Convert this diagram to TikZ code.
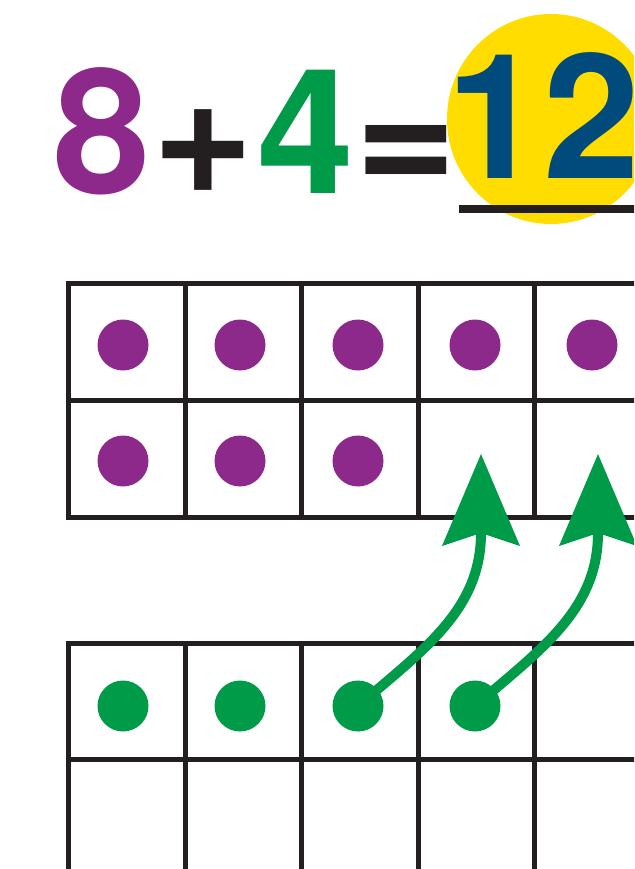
\documentclass[tikz,border=0pt]{standalone}
\usepackage{fontspec}
\setmainfont{TeX Gyre Heros}
\usetikzlibrary{arrows.meta}

\definecolor{morado}{HTML}{8E298C}
\definecolor{verde}{HTML}{009B48}
\definecolor{azul}{HTML}{004A7C}
\definecolor{amarillo}{HTML}{FFDD00}
\definecolor{negro}{HTML}{231F20}

\begin{document}
\begin{tikzpicture}[
    x=0.5pt,
    y=-0.5pt,
    cifra/.style={anchor=base,inner sep=0pt,font=\bfseries\fontsize{87}{87}\selectfont},
    linea/.style={line width=2.5pt,negro,line cap=rect},
    punto/.style={circle,inner sep=0pt,minimum size=25.5pt},
    flecha/.style={line width=5pt,verde,
        -{Stealth[length=46pt,width=39pt,inset=6.5pt,line width=0pt]}}
]
    \useasboundingbox (0,0) rectangle (634,869);
    \clip (0,0) rectangle (634,869);

    % Suma
    \fill[amarillo] (551,119) ellipse [x radius=104,y radius=105];
    \node[cifra,morado] (ocho) at (101.5,193) {8};
    \node[cifra,negro] (mas) at (203,193) {+};
    \node[cifra,verde] (cuatro) at (306,193) {4};
    \node[cifra,negro] (igual) at (406.5,193) {=};
    \node[cifra,azul] (doce) at (543,178) {12};
    \draw[negro,line width=4pt] (459,209) -- (660,209);

    % Decena de arriba
    \foreach \x in {68.5,185,301.5,418,534.5,651}{
        \draw[linea] (\x,283) -- (\x,517);
    }
    \foreach \y in {283,400,517}{
        \draw[linea] (68.5,\y) -- (670,\y);
    }
    \foreach \x [count=\i] in {123,240,358,475,592}{
        \node[punto,fill=morado] (m\i) at (\x,345) {};
    }
    \foreach \x [count=\i from 6] in {123,240,358}{
        \node[punto,fill=morado] (m\i) at (\x,461) {};
    }

    % Decena de abajo
    \foreach \x in {68.5,185,301.5,418,534.5,651}{
        \draw[linea] (\x,643) -- (\x,890);
    }
    \foreach \y in {643,759,875}{
        \draw[linea] (68.5,\y) -- (670,\y);
    }
    \foreach \x [count=\i] in {123,240,358,475}{
        \node[punto,fill=verde] (v\i) at (\x,706) {};
    }

    % Se pasan dos
    \coordinate (p1) at (481,454);
    \coordinate (p2) at (598,454);
    \draw[flecha] (v3.center) .. controls (423,650) and (481,610) .. (p1);
    \draw[flecha] (v4.center) .. controls (540,650) and (598,610) .. (p2);
\end{tikzpicture}
\end{document}
